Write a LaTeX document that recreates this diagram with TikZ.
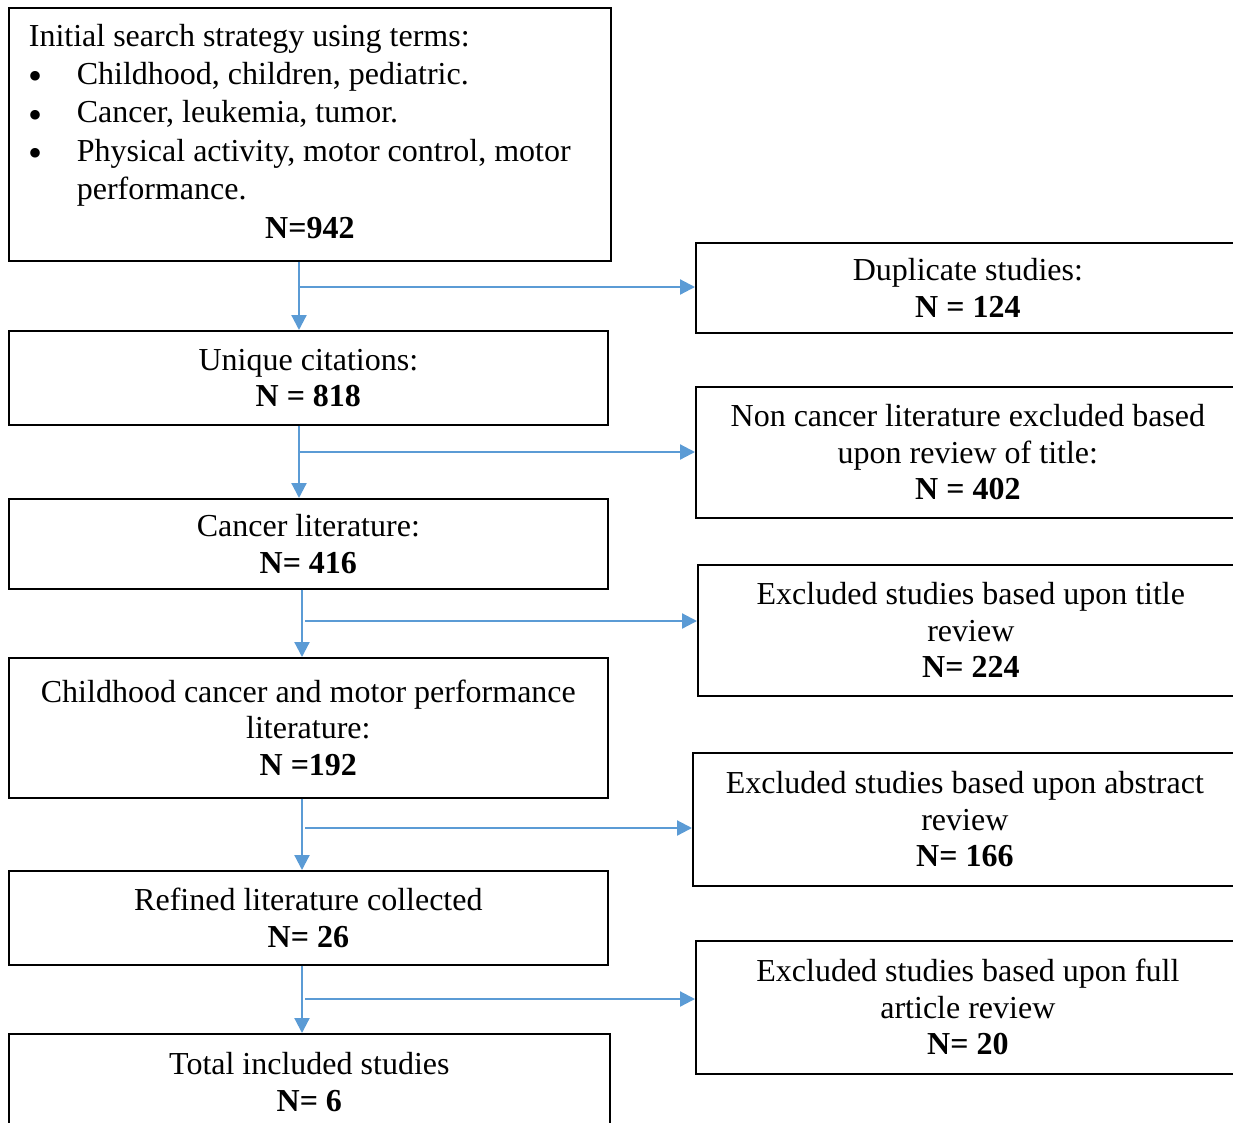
\documentclass[tikz,border=0pt]{standalone}
\usepackage{fontspec}
\setmainfont{Liberation Serif}
\usepackage{array}
\usepackage{tikz}
\usetikzlibrary{arrows.meta,positioning}
\definecolor{flowblue}{RGB}{91,155,213}
\newcommand{\bigbul}{\smash{\raisebox{-5.5pt}{\fontsize{40}{0}\selectfont\textbullet}}}

\begin{document}
\begin{tikzpicture}[x=1pt,y=-1pt,box/.style={draw,line width=1.7pt,inner sep=0pt,align=center,anchor=north west,font=\fontsize{32}{36.5}\selectfont},arr/.style={-{Triangle[length=15pt,width=15pt]},draw=flowblue,line width=2.2pt}]
\useasboundingbox (0,0) rectangle (1233,1122); \clip (0,0) rectangle (1233,1122);
\node[box,minimum width=602,minimum height=253](init) at (8,7){\fontsize{32}{38.4}\selectfont\begin{tabular}{@{}p{48pt}@{}>{\raggedright\arraybackslash}p{514pt}@{}}
\multicolumn{2}{@{}l@{}}{Initial search strategy using terms:}\\
\bigbul & Childhood, children, pediatric.\\
\bigbul & Cancer, leukemia, tumor.\\
\bigbul & Physical activity, motor control, motor performance.\\
\multicolumn{2}{@{}c@{}}{\textbf{N=942}}
\end{tabular}};
\node[box,minimum width=599,minimum height=94](uniq) at (8,330){Unique citations:\\\textbf{N = 818}};
\node[box,minimum width=599,minimum height=90](canc) at (8,498){Cancer literature:\\\textbf{N= 416}};
\node[box,minimum width=599,minimum height=140](child) at (8,657){Childhood cancer and motor performance\\literature:\\\textbf{N =192}};
\node[box,minimum width=599,minimum height=94](refin) at (8,870){Refined literature collected\\\textbf{N= 26}};
\node[box,minimum width=601,minimum height=96](total) at (8,1033){Total included studies\\\textbf{N= 6}};
\node[box,minimum width=544,minimum height=90](dup) at (695,242){Duplicate studies:\\\textbf{N = 124}};
\node[box,minimum width=544,minimum height=131](noncanc) at (695,386){Non cancer literature excluded based\\upon review of title:\\\textbf{N = 402}};
\node[box,minimum width=546,minimum height=131](extitle) at (697,564){Excluded studies based upon title\\review\\\textbf{N= 224}};
\node[box,minimum width=544,minimum height=133](exabs) at (692,752){Excluded studies based upon abstract\\review\\\textbf{N= 166}};
\node[box,minimum width=544,minimum height=133](exfull) at (695,940){Excluded studies based upon full\\article review\\\textbf{N= 20}};
\coordinate(s1) at (299,287); \coordinate(s2) at (299,452); \coordinate(s3) at (302,621); \coordinate(s4) at (302,828); \coordinate(s5) at (302,999);
\draw[arr](s1 |- init.south)--(s1 |- uniq.north); \draw[arr](s1)--(s1 -| dup.west);
\draw[arr](s2 |- uniq.south)--(s2 |- canc.north); \draw[arr](s2)--(s2 -| noncanc.west);
\draw[arr](s3 |- canc.south)--(s3 |- child.north); \draw[arr]([xshift=3pt]s3)--(s3 -| extitle.west);
\draw[arr](s4 |- child.south)--(s4 |- refin.north); \draw[arr]([xshift=3pt]s4)--(s4 -| exabs.west);
\draw[arr](s5 |- refin.south)--(s5 |- total.north); \draw[arr]([xshift=3pt]s5)--(s5 -| exfull.west);
\end{tikzpicture}
\end{document}
